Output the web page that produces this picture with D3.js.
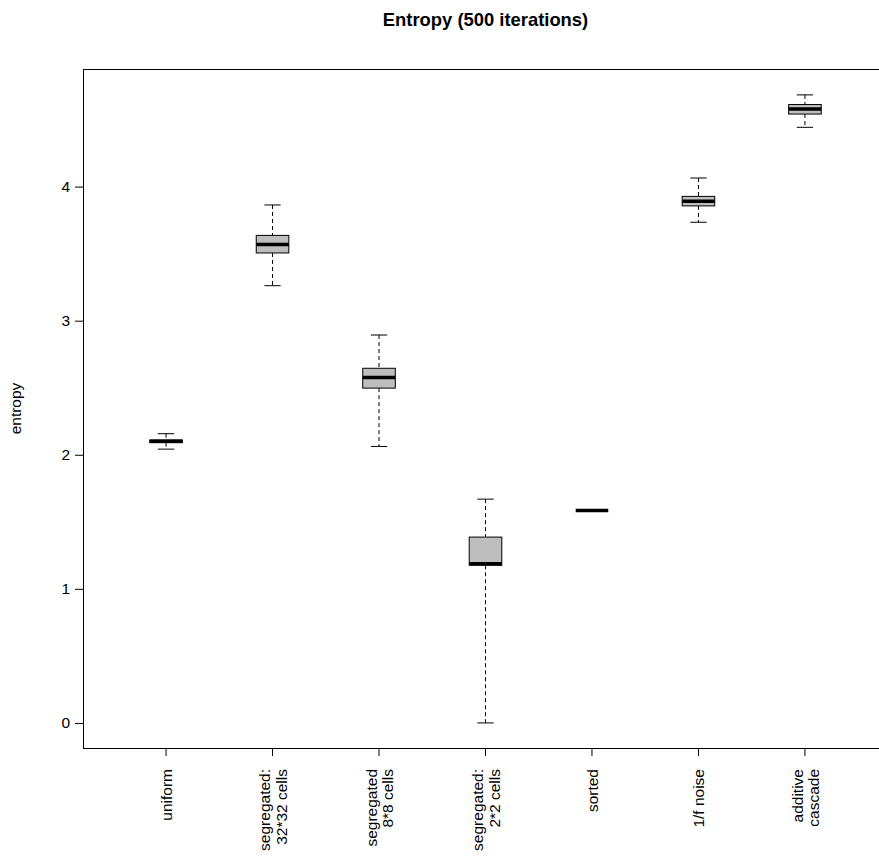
<!DOCTYPE html>
<html>
<head>
<meta charset="utf-8">
<script src="https://cdn.jsdelivr.net/npm/d3@7"></script>
<style>
  body { margin: 0; background: #fff; }
  svg { display: block; font-family: 'Liberation Sans', Arial, Helvetica, sans-serif; }
</style>
</head>
<body>
<div id='container'></div>
<script>
// one entry per box, label lines split for the two-line axis labels
const categories = [
  ['uniform'],
  ['segregated:', '32*32 cells'],
  ['segregated', '8*8 cells'],
  ['segregated:', '2*2 cells'],
  ['sorted'],
  ['1/f noise'],
  ['additive', 'cascade']
]
const whiskerLow = [2.042, 3.261, 2.062, 0.0, 1.585, 3.734, 4.442]
const q1 = [2.090, 3.505, 2.497, 1.176, 1.585, 3.856, 4.541]
const median = [2.100, 3.569, 2.577, 1.187, 1.585, 3.890, 4.579]
const q3 = [2.110, 3.636, 2.645, 1.386, 1.585, 3.927, 4.612]
const whiskerHigh = [2.157, 3.863, 2.893, 1.669, 1.585, 4.064, 4.684]
const yTicks = [0, 1, 2, 3, 4]

const width = 879
const height = 857
const plot = { left: 83, top: 69, right: 888, bottom: 748 }

function drawChart () {
  const data = categories.map((c, i) => ({
    key: c.join(' '),
    lines: c,
    lo: whiskerLow[i],
    q1: q1[i],
    med: median[i],
    q3: q3[i],
    hi: whiskerHigh[i]
  }))

  const svg = d3.select('#container')
    .append('svg')
    .attr('width', width)
    .attr('height', height)

  const xScale = d3.scaleBand()
    .domain(data.map(d => d.key))
    .range([plot.left, plot.right])
    .paddingInner(0)
    .paddingOuter(0.28)
  const yScale = d3.scaleLinear()
    .domain([-0.187, 4.877])
    .range([plot.bottom, plot.top])

  const boxW = xScale.step() * 0.306
  const cx = d => xScale(d.key) + xScale.bandwidth() / 2

  // title
  svg.append('text')
    .attr('x', (plot.left + plot.right) / 2)
    .attr('y', 25.5)
    .attr('text-anchor', 'middle')
    .attr('font-weight', 'bold')
    .attr('font-size', '18.4px')
    .text('Entropy (500 iterations)')

  // y axis
  const yAxis = svg.append('g')
    .attr('transform', `translate(${plot.left},0)`)
    .call(d3.axisLeft(yScale).tickValues(yTicks).tickSize(8).tickPadding(5).tickFormat(d3.format('d')))
  yAxis.select('.domain').remove()
  yAxis.selectAll('text').attr('font-size', '15.5px').attr('fill', '#000').attr('font-family', null)
  yAxis.selectAll('line').attr('stroke', '#000')
  yAxis.attr('font-family', null)

  svg.append('text')
    .attr('transform', `translate(21,${(plot.top + plot.bottom) / 2}) rotate(-90)`)
    .attr('text-anchor', 'middle')
    .attr('font-size', '15.5px')
    .text('entropy')

  // x axis
  const xAxis = svg.append('g')
    .attr('transform', `translate(0,${plot.bottom})`)
    .call(d3.axisBottom(xScale).tickSize(8).tickFormat(''))
  xAxis.select('.domain').remove()
  xAxis.selectAll('line').attr('stroke', '#000')
  xAxis.selectAll('.tick').each(function (key, i) {
    const lines = data[i].lines
    const t = d3.select(this).append('text')
      .attr('transform', 'translate(0,21) rotate(-90)')
      .attr('text-anchor', 'end')
      .attr('font-size', '15.5px')
      .attr('fill', '#000')
    lines.forEach((l, j) => {
      t.append('tspan')
        .attr('x', 0)
        .attr('y', 6 + (j - (lines.length - 1) / 2) * 16.7)
        .text(l)
    })
  })
  xAxis.attr('font-family', null)

  // frame
  svg.append('rect')
    .attr('x', plot.left + 0.5)
    .attr('y', plot.top + 0.5)
    .attr('width', plot.right - plot.left)
    .attr('height', plot.bottom - plot.top)
    .attr('fill', 'none')
    .attr('stroke', '#000')

  // boxes
  const g = svg.append('g')
    .selectAll('g')
    .data(data)
    .join('g')

  g.append('line')
    .attr('x1', cx).attr('x2', cx)
    .attr('y1', d => yScale(d.hi)).attr('y2', d => yScale(d.q3))
    .attr('stroke', '#000')
    .attr('stroke-dasharray', '4,3')
  g.append('line')
    .attr('x1', cx).attr('x2', cx)
    .attr('y1', d => yScale(d.q1)).attr('y2', d => yScale(d.lo))
    .attr('stroke', '#000')
    .attr('stroke-dasharray', '4,3')
  g.selectAll('.cap')
    .data(d => [d.lo, d.hi].map(v => ({ d, v })))
    .join('line')
    .attr('class', 'cap')
    .attr('x1', o => cx(o.d) - boxW / 4)
    .attr('x2', o => cx(o.d) + boxW / 4)
    .attr('y1', o => yScale(o.v))
    .attr('y2', o => yScale(o.v))
    .attr('stroke', '#000')
  g.append('rect')
    .attr('x', d => cx(d) - boxW / 2)
    .attr('y', d => yScale(d.q3))
    .attr('width', boxW)
    .attr('height', d => yScale(d.q1) - yScale(d.q3))
    .attr('fill', '#bebebe')
    .attr('stroke', '#000')
  g.append('line')
    .attr('x1', d => cx(d) - boxW / 2)
    .attr('x2', d => cx(d) + boxW / 2)
    .attr('y1', d => yScale(d.med))
    .attr('y2', d => yScale(d.med))
    .attr('stroke', '#000')
    .attr('stroke-width', 3.5)
}

drawChart()
</script>
</body>
</html>
